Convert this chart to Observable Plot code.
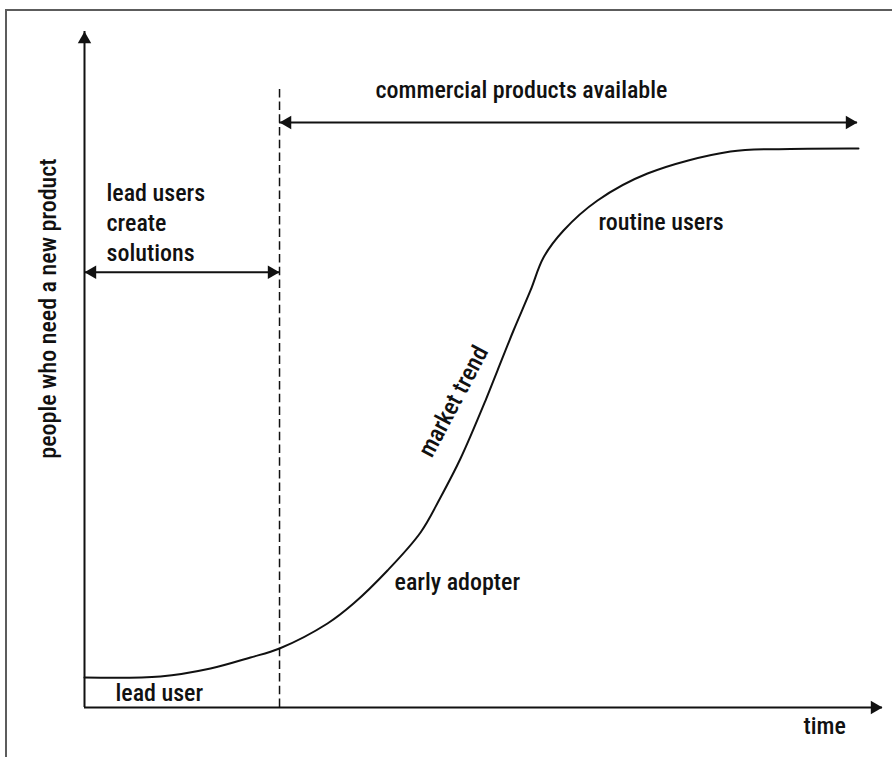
<!DOCTYPE html>
<html><head><meta charset="utf-8">
<script src="https://cdn.jsdelivr.net/npm/d3@7"></script>
<script src="https://cdn.jsdelivr.net/npm/@observablehq/plot@0.6"></script>
<style>
body{margin:0;background:#fff;overflow:hidden;}
#wrap{position:relative;width:892px;height:757px;overflow:hidden;background:#fff;}
#border{position:absolute;left:5px;top:9px;width:1000px;height:1000px;border-left:2px solid #5c5c5c;border-top:2px solid #5c5c5c;}
#chart{position:absolute;left:0;top:0;}
#chart svg text{font-stretch:76%;font-weight:500;}
</style></head><body>
<div id="wrap"><div id="border"></div><div id="chart"></div></div>
<script>
// S-curve: time (0-100) vs people who need a new product (0-100)
const curveTime   = [0, 9.52, 15.79, 20.80, 24.44, 30.45, 33.71, 37.97, 42.11, 44.61, 47.12, 50.25, 51.75, 53.76, 55.89, 57.52, 60.03, 64.29, 70.55, 80.95, 88.47, 96.99];
const curvePeople = [4.44, 4.59, 5.77, 7.40, 8.73, 12.43, 15.38, 20.27, 25.89, 31.07, 36.83, 45.41, 49.85, 55.77, 61.69, 66.57, 70.56, 75.00, 78.99, 82.25, 82.62, 82.69];

// boundary between lead-user phase and commercial products
const boundaryTime = [24.44];
const boundaryTop = 91.72;

// double-headed span arrows
const spanPeople = [86.54, 64.4];
const spanStart  = [24.44, 0];
const spanEnd    = [96.87, 24.44];

// plain labels
const labelText   = ["commercial products available", "lead users\ncreate\nsolutions", "routine users", "early adopter", "lead user", "time"];
const labelTime   = [36.47, 2.76, 64.41, 38.85, 3.88, 90.10];
const labelPeople = [91.57, 71.89, 72.04, 18.79, 2.37, -2.51];

// rotated labels
const trendLabel = ["market trend"];
const trendTime = [46.24];
const trendPeople = [45.27];
const yLabel = ["people who need a new product"];
const yLabelTime = [-4.51];
const yLabelPeople = [59.02];

const curve = curveTime.map((t, i) => ({t, p: curvePeople[i]}));
const spans = spanPeople.map((p, i) => ({p, a: spanStart[i], b: spanEnd[i]}));
const labels = labelText.map((s, i) => ({s, t: labelTime[i], p: labelPeople[i]}));
const rightHeads = [{t: 100, p: 0}, ...spans.map(d => ({t: d.b, p: d.p}))];
const leftHeads = spans.map(d => ({t: d.a, p: d.p}));
const upHeads = [{t: 0, p: 100}];

const font = "Roboto,'DejaVu Sans Condensed',sans-serif";
const ink = "#111";
const headR = 5;
const tipOff = 7.8;
const fs = 24;

const chart = Plot.plot({
  width: 892, height: 757,
  marginLeft: 84, marginRight: 10, marginTop: 31, marginBottom: 50,
  x: {domain: [0, 100], axis: null},
  y: {domain: [0, 100], axis: null},
  style: {background: "transparent", fontFamily: font},
  marks: [
    Plot.ruleY([0], {stroke: ink, strokeWidth: 2}),
    Plot.ruleX([0], {stroke: ink, strokeWidth: 2}),
    Plot.ruleX(boundaryTime, {y1: 0, y2: boundaryTop, stroke: ink, strokeWidth: 1.5, strokeDasharray: "8.5,4.2"}),
    Plot.ruleY(spans, {y: "p", x1: "a", x2: "b", stroke: ink, strokeWidth: 2}),
    Plot.line(curve, {x: "t", y: "p", curve: "catmull-rom", stroke: ink, strokeWidth: 2}),
    Plot.dot(rightHeads, {x: "t", y: "p", symbol: "triangle", r: headR, rotate: 90, fill: ink, stroke: "none", dx: -tipOff}),
    Plot.dot(leftHeads, {x: "t", y: "p", symbol: "triangle", r: headR, rotate: -90, fill: ink, stroke: "none", dx: tipOff}),
    Plot.dot(upHeads, {x: "t", y: "p", symbol: "triangle", r: headR, rotate: 0, fill: ink, stroke: "none", dy: tipOff}),
    Plot.text(labels, {x: "t", y: "p", text: "s", textAnchor: "start", lineAnchor: "middle", lineHeight: 1.25, fontSize: fs, fill: ink}),
    Plot.text(trendLabel, {x: trendTime, y: trendPeople, text: d => d, rotate: -62, textAnchor: "middle", fontSize: fs, fill: ink}),
    Plot.text(yLabel, {x: yLabelTime, y: yLabelPeople, text: d => d, rotate: -90, textAnchor: "middle", fontSize: fs, fill: ink})
  ]
});
document.getElementById("chart").appendChild(chart);
</script>
</body></html>
